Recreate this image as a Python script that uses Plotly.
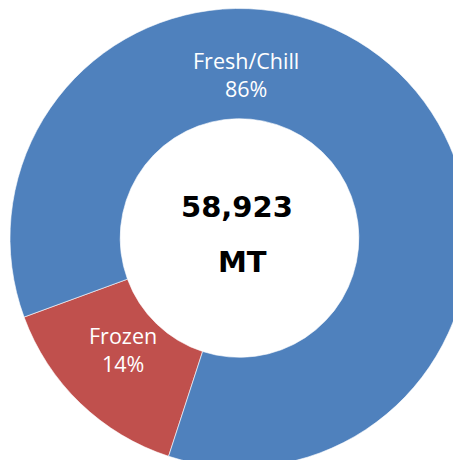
import plotly.graph_objects as go

categories = ["Frozen", "Fresh/Chill"]
values = [8485, 50438]
percent_labels = ["14%", "86%"]
colors = ["#C0504D", "#4F81BD"]
total_label = "58,923"
unit_label = "MT"

W, H = 461, 460

fig = go.Figure(go.Pie(
    labels=categories,
    values=values,
    hole=0.52,
    sort=False,
    direction="clockwise",
    rotation=198,
    marker=dict(colors=colors, line=dict(color="white", width=0.6)),
    textinfo="none",
    showlegend=False,
    hoverinfo="label+percent",
    domain=dict(x=[2 / W, 1], y=[0, 1]),
))

label_pos = {"Fresh/Chill": (238, 67), "Frozen": (114.5, 341)}
for cat, pct in zip(categories, percent_labels):
    px, py = label_pos[cat]
    fig.add_annotation(text=f"{cat}<br>{pct}", x=px / W, y=1 - py / H,
                       xref="paper", yref="paper", showarrow=False,
                       xanchor="center", yanchor="middle",
                       font=dict(family="Open Sans, sans-serif", size=21.5, color="white"))

fig.add_annotation(text=f"<b>{total_label}</b>", x=228.5 / W, y=1 - 199 / H,
                   xref="paper", yref="paper", showarrow=False,
                   xanchor="center", yanchor="middle",
                   font=dict(family="DejaVu Sans, sans-serif", size=29, color="black"))
fig.add_annotation(text=f"<b>{unit_label}</b>", x=234 / W, y=1 - 254 / H,
                   xref="paper", yref="paper", showarrow=False,
                   xanchor="center", yanchor="middle",
                   font=dict(family="DejaVu Sans, sans-serif", size=29, color="black"))

fig.update_layout(width=W, height=H, margin=dict(l=0, r=0, t=0, b=0),
                  paper_bgcolor="white", plot_bgcolor="white")
fig.write_html("out.html")
